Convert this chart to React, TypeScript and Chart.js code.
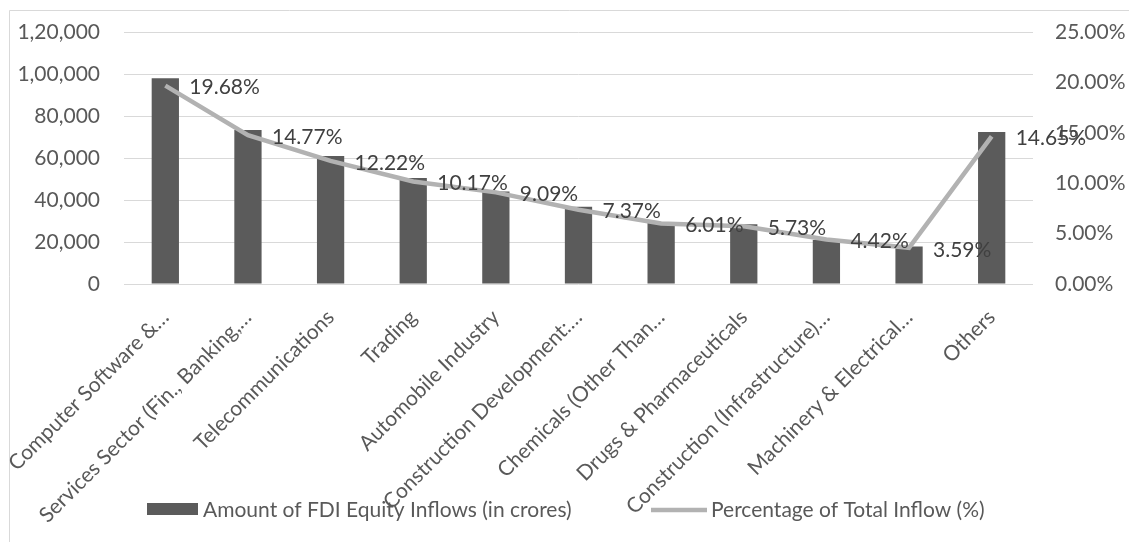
import React, { useEffect, useRef } from "react";
import { Chart, registerables } from "chart.js";

Chart.register(...registerables);

const categories = [
  "Computer Software &…",
  "Services Sector (Fin., Banking,…",
  "Telecommunications",
  "Trading",
  "Automobile Industry",
  "Construction Development:…",
  "Chemicals (Other Than…",
  "Drugs & Pharmaceuticals",
  "Construction (Infrastructure)…",
  "Machinery & Electrical…",
  "Others",
];

const fdiAmounts = [98000, 73300, 61000, 50500, 44000, 36800, 29000, 28500, 21000, 17800, 72400];

const percentShares = [19.68, 14.77, 12.22, 10.17, 9.09, 7.37, 6.01, 5.73, 4.42, 3.59, 14.65];

const leftTickLabels = ["0", "20,000", "40,000", "60,000", "80,000", "1,00,000", "1,20,000"];

const seriesNames = [
  "Amount of FDI Equity Inflows (in crores)",
  "Percentage of Total Inflow (%)",
];

const FONT = "Lato, 'Open Sans', sans-serif";
const BAR_COLOR = "#5b5b5b";
const LINE_COLOR = "#b2b2b2";
const TEXT_COLOR = "#595959";
const LABEL_COLOR = "#404040";
const GRID_COLOR = "#d9d9d9";

const framePlugin = {
  id: "frame",
  beforeDraw(chart: any) {
    const { ctx, width, height } = chart;
    ctx.save();
    ctx.fillStyle = "#ffffff";
    ctx.fillRect(0, 0, width, height);
    ctx.strokeStyle = GRID_COLOR;
    ctx.lineWidth = 1;
    ctx.beginPath();
    ctx.moveTo(9.5, height);
    ctx.lineTo(9.5, 10.5);
    ctx.lineTo(width, 10.5);
    ctx.stroke();
    ctx.restore();
  },
};

const labelPlugin = {
  id: "pctLabels",
  afterDatasetsDraw(chart: any) {
    const { ctx } = chart;
    const meta = chart.getDatasetMeta(1);
    ctx.save();
    ctx.font = `21px ${FONT}`;
    ctx.fillStyle = LABEL_COLOR;
    ctx.textAlign = "left";
    ctx.textBaseline = "middle";
    meta.data.forEach((pt: any, i: number) => {
      ctx.fillText(percentShares[i].toFixed(2) + "%", pt.x + 24, pt.y + 2);
    });
    ctx.restore();
  },
};

const legendPlugin = {
  id: "customLegend",
  afterDraw(chart: any) {
    const { ctx } = chart;
    ctx.save();
    ctx.font = `21px ${FONT}`;
    ctx.textBaseline = "middle";
    ctx.textAlign = "left";
    const y = 510;
    ctx.fillStyle = BAR_COLOR;
    ctx.fillRect(147, 503, 51, 12);
    ctx.fillStyle = TEXT_COLOR;
    ctx.fillText(seriesNames[0], 203, y);
    ctx.strokeStyle = LINE_COLOR;
    ctx.lineWidth = 4.5;
    ctx.beginPath();
    ctx.moveTo(651, y);
    ctx.lineTo(707, y);
    ctx.stroke();
    ctx.fillStyle = TEXT_COLOR;
    ctx.fillText(seriesNames[1], 711, y);
    ctx.restore();
  },
};

export default function App() {
  const ref = useRef<HTMLCanvasElement | null>(null);

  useEffect(() => {
    if (!ref.current) return;
    const chart = new Chart(ref.current, {
      type: "bar",
      data: {
        labels: categories,
        datasets: [
          {
            type: "bar",
            label: seriesNames[0],
            data: fdiAmounts,
            backgroundColor: BAR_COLOR,
            yAxisID: "y",
            categoryPercentage: 0.33,
            barPercentage: 1,
            order: 1,
          },
          {
            type: "line",
            label: seriesNames[1],
            data: percentShares,
            borderColor: LINE_COLOR,
            borderWidth: 4.5,
            pointRadius: 0,
            tension: 0,
            yAxisID: "y1",
            order: 0,
          } as any,
        ],
      },
      options: {
        animation: false,
        responsive: false,
        layout: { padding: { top: 32, left: 0, right: 0, bottom: 0 } },
        plugins: {
          legend: { display: false },
          tooltip: { enabled: false },
        },
        scales: {
          x: {
            grid: { display: false },
            border: { display: false },
            ticks: {
              autoSkip: false,
              maxRotation: 45,
              minRotation: 45,
              color: TEXT_COLOR,
              font: { family: FONT, size: 21 },
              padding: 13,
            },
            afterFit: (s: any) => {
              s.height = 258;
              s.paddingLeft = 0;
              s.paddingRight = 0;
            },
          },
          y: {
            position: "left",
            min: 0,
            max: 120000,
            ticks: {
              stepSize: 20000,
              callback: (_v: any, i: number) => leftTickLabels[i],
              color: TEXT_COLOR,
              font: { family: FONT, size: 21 },
              padding: 24,
            },
            grid: { color: GRID_COLOR, lineWidth: 1, drawTicks: false },
            border: { display: false },
            afterFit: (s: any) => {
              s.width = 124;
              s.paddingTop = 0;
              s.paddingBottom = 0;
            },
          },
          y1: {
            position: "right",
            min: 0,
            max: 25,
            ticks: {
              stepSize: 5,
              callback: (v: any) => Number(v).toFixed(2) + "%",
              color: TEXT_COLOR,
              font: { family: FONT, size: 21 },
              padding: 22,
            },
            grid: { display: false, drawTicks: false },
            border: { display: false },
            afterFit: (s: any) => {
              s.width = 96;
              s.paddingTop = 0;
              s.paddingBottom = 0;
            },
          },
        },
      },
      plugins: [framePlugin, labelPlugin, legendPlugin],
    });
    return () => chart.destroy();
  }, []);

  return (
    <div style={{ position: "fixed", left: 0, top: 0, width: 1129, height: 542, background: "#fff" }}>
      <canvas ref={ref} width={1129} height={542} style={{ display: "block" }} />
    </div>
  );
}
